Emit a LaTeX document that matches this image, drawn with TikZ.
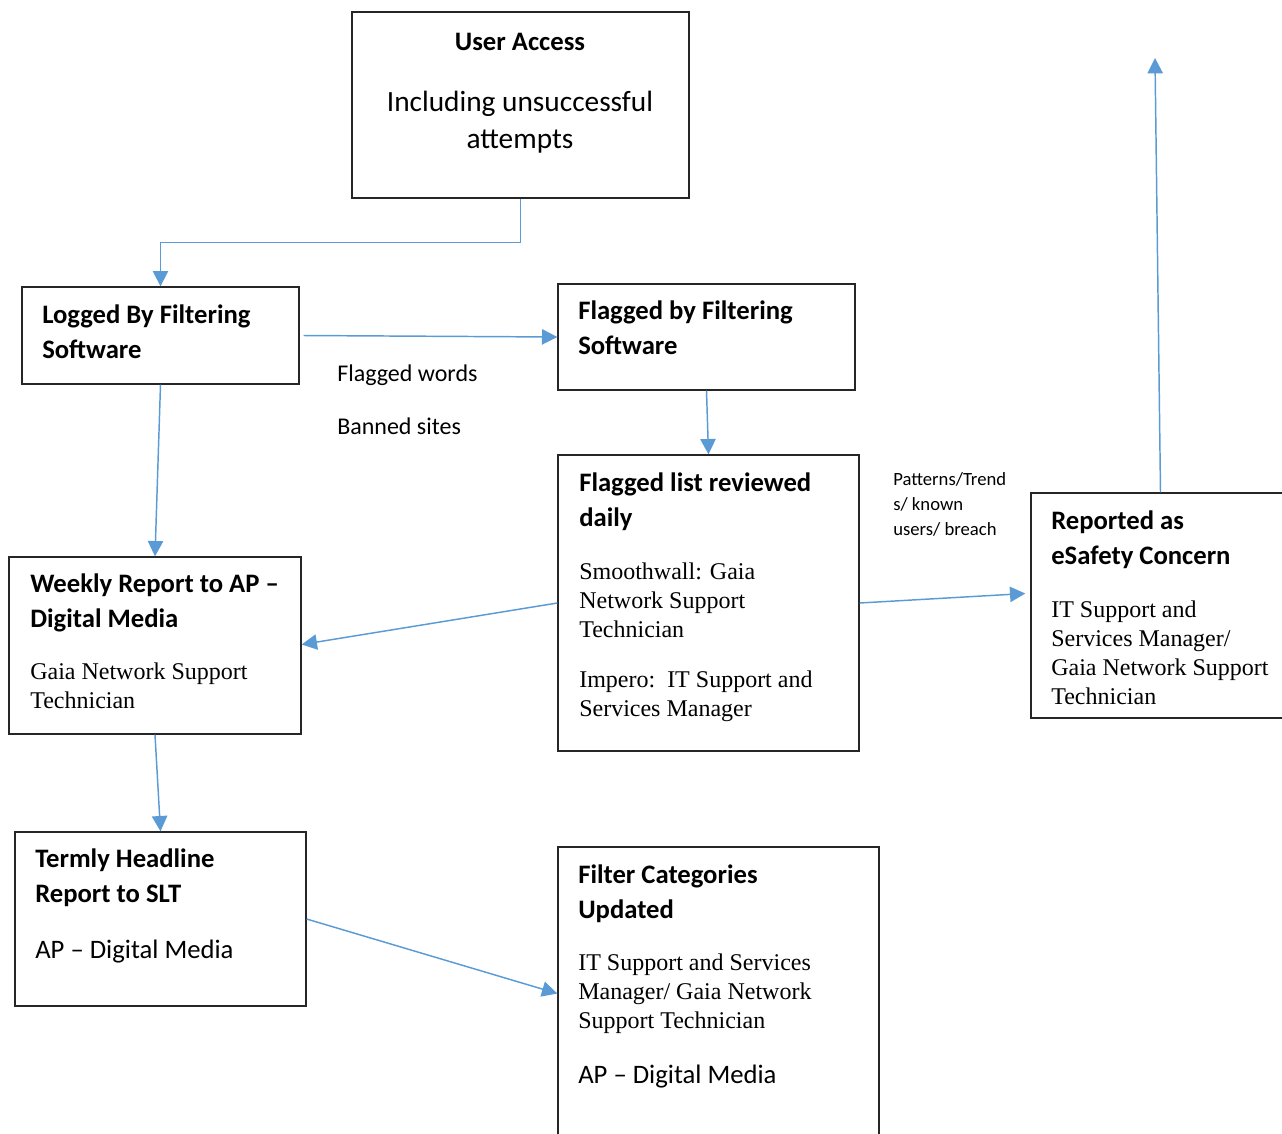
\documentclass[tikz,border=0pt]{standalone}
\usepackage{fontspec}
\setmainfont{Carlito}
\newfontfamily\tnr{Liberation Serif}
\usetikzlibrary{arrows.meta,fit,calc}
\definecolor{connblue}{RGB}{91,155,213}
\begin{document}
\begin{tikzpicture}[x=0.75pt,y=-0.75pt,
  box/.style={draw=black!85,line width=1pt,inner sep=0pt},
  conn/.style={draw=connblue,line width=1.1pt,-{Triangle[width=11.5pt,length=11.5pt]}},
  head/.style={anchor=base west,align=left,inner sep=0pt,font=\fontsize{20}{26}\selectfont\bfseries},
  body/.style={anchor=base west,align=left,inner sep=0pt,font=\tnr\fontsize{18}{21.75}\selectfont},
  cal/.style={anchor=base west,align=left,inner sep=0pt,font=\fontsize{20}{26}\selectfont},
  lbl/.style={anchor=base west,align=left,inner sep=0pt,font=\fontsize{18}{22}\selectfont},
  small/.style={anchor=base west,align=left,inner sep=0pt,font=\fontsize{14}{18.75}\selectfont}]
\useasboundingbox (0,0) rectangle (1282,1133);
\clip (0,0) rectangle (1282,1133);

% boxes
\node[box,fit={(352,12) (689,198)}] (ua) {};
\node[box,fit={(22,287) (299,384)}] (logged) {};
\node[box,fit={(558,284) (855,390)}] (flaggedby) {};
\node[box,fit={(558,455) (859,751)}] (flist) {};
\node[box,fit={(1031,493) (1290,718)}] (reported) {};
\node[box,fit={(9,557) (301,734)}] (weekly) {};
\node[box,fit={(15,832) (306,1006)}] (termly) {};
\node[box,fit={(558,847) (879,1140)}] (filtercat) {};

% texts (base anchor = baseline of the last line)
\node[anchor=base,inner sep=0pt,font=\fontsize{20}{26}\selectfont\bfseries] (uah) at (520,50) {User Access};
\node[anchor=base,align=center,inner sep=0pt,font=\fontsize{22}{27.75}\selectfont] (uab) at (520,148) {Including unsuccessful\\attempts};

\node[head] (loggedh) at (42,358) {Logged By Filtering\\Software};
\node[head] (flaggedbyh) at (578,354) {Flagged by Filtering\\Software};

\node[lbl] (lw) at (337,381) {Flagged words};
\node[lbl] (lb) at (337,434) {Banned sites};

\node[head] (flisth) at (579,526) {Flagged list reviewed\\daily};
\node[body] (flistb1) at (579,637) {Smoothwall: Gaia\\Network Support\\Technician};
\node[body] (flistb2) at (579,716) {Impero:\ \ IT Support and\\Services Manager};

\node[small] (pat) at (893,535) {Patterns/Trend\\s/ known\\users/ breach};

\node[head] (reph) at (1051,564) {Reported as\\eSafety Concern};
\node[body] (repb) at (1051,704) {IT Support and\\Services Manager/\\Gaia Network Support\\Technician};

\node[head] (weeklyh) at (30,627) {Weekly Report to AP –\\Digital Media};
\node[body] (weeklyb) at (30,708) {Gaia Network Support\\Technician};

\node[head] (termlyh) at (35,902) {Termly Headline\\Report to SLT};
\node[cal] (termlyb) at (35,958) {AP – Digital Media};

\node[head] (filterh) at (578,918) {Filter Categories\\Updated};
\node[body] (filterb1) at (578,1028) {IT Support and Services\\Manager/ Gaia Network\\Support Technician};
\node[cal] (filterb2) at (578,1083) {AP – Digital Media};

% connectors
\coordinate (topend) at (1155,58);
\draw[conn] (ua.south) -- ++(0,44) -| (logged.north);
\draw[conn] ([xshift=3pt]logged.east) -- (flaggedby.west);
\draw[conn] (flaggedby.south) -- (flist.north);
\draw[conn] (logged.south) -- (weekly.north);
\draw[conn] (flist.west) -- ($(weekly.east)+(0,-1)$);
\draw[conn] (flist.east) -- ($(reported.west)+(-5,-12)$);
\draw[conn] (reported.north) -- (topend);
\draw[conn] (weekly.south) -- (termly.north);
\draw[conn] (termly.east) -- (filtercat.west);
\end{tikzpicture}
\end{document}
